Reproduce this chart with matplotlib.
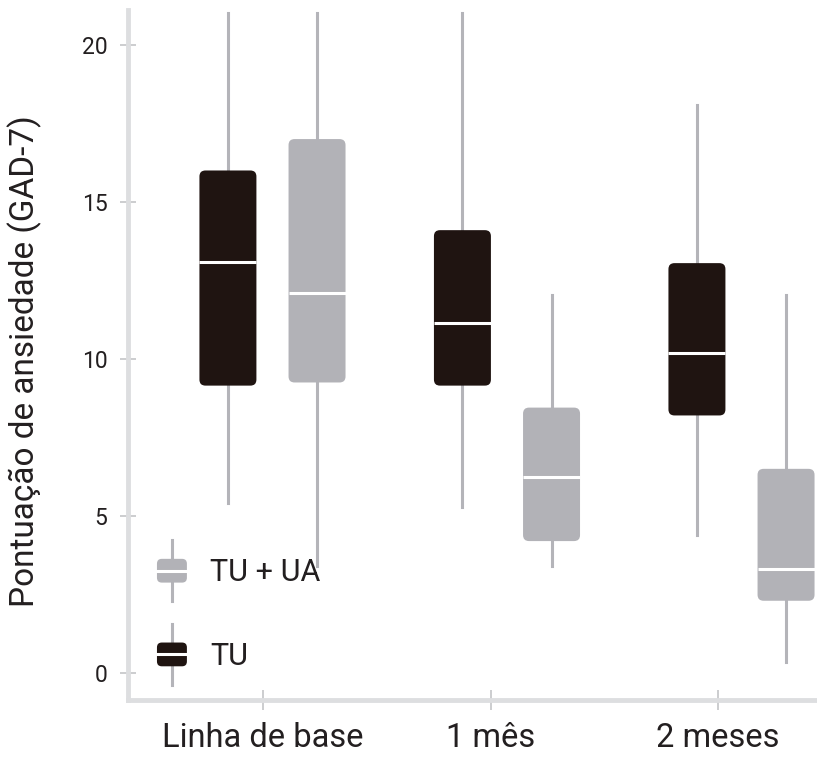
"""GAD-7 anxiety scores by time point: TU vs TU + UA box plots."""
import matplotlib
matplotlib.use("Agg")
import matplotlib.pyplot as plt
from matplotlib.patches import FancyBboxPatch, Patch
from matplotlib.lines import Line2D
from matplotlib.legend_handler import HandlerBase

plt.rcParams["font.family"] = ["Roboto", "DejaVu Sans"]

periods = ["Linha de base", "1 mês", "2 meses"]
series_names = ["TU + UA", "TU"]

# TU (black boxes)
tu_low = [5.4, 5.3, 4.4]
tu_q1 = [9.15, 9.15, 8.2]
tu_med = [13.1, 11.15, 10.2]
tu_q3 = [16.0, 14.1, 13.05]
tu_high = [21.0, 21.0, 18.1]

# TU + UA (grey boxes)
ua_low = [3.4, 3.4, 0.35]
ua_q1 = [9.25, 4.2, 2.3]
ua_med = [12.1, 6.25, 3.3]
ua_q3 = [17.0, 8.45, 6.5]
ua_high = [21.0, 12.05, 12.05]

TEXT = "#231f20"
BLACK = "#1f1411"
GREY = "#b2b2b7"
WHISKER = "#b4b4b9"
SPINE = "#dddee0"

FIG_W, FIG_H, DPI = 8.17, 7.57, 100
AX_RECT = [0.1567, 0.0753, 0.8433, 0.9115]
XLIM = (-0.616, 2.322)
YLIM = (-0.86, 21.11)
OFFSET = 0.19
BOX_W = 0.243
TICK_POS = [-0.04, 0.932, 1.90]


def make_stats(low, q1, med, q3, high):
    return [dict(whislo=a, q1=b, med=c, q3=d, whishi=e, fliers=[])
            for a, b, c, d, e in zip(low, q1, med, q3, high)]


class BoxGlyph(HandlerBase):
    def create_artists(self, legend, orig_handle, xdescent, ydescent,
                       width, height, fontsize, trans):
        fc = orig_handle.get_facecolor()
        cx = width / 2 - xdescent
        cy = height / 2 - ydescent
        whisk = Line2D([cx, cx], [cy - 22, cy + 22], color=WHISKER, lw=2.2,
                       transform=trans)
        box = FancyBboxPatch((-xdescent, cy - height / 2), width, height,
                             boxstyle="round,pad=0,rounding_size=3.5",
                             facecolor=fc, edgecolor="none", transform=trans)
        med = Line2D([-xdescent, -xdescent + width], [cy, cy], color="white",
                     lw=2.2, transform=trans)
        return [whisk, box, med]


fig = plt.figure(figsize=(FIG_W, FIG_H), dpi=DPI)
ax = fig.add_axes(AX_RECT)
ax.set_xlim(*XLIM)
ax.set_ylim(*YLIM)

# rounding in x data units, stretched to look circular in pixels
ax_w_px = AX_RECT[2] * FIG_W * DPI
ax_h_px = AX_RECT[3] * FIG_H * DPI
aspect = ((YLIM[1] - YLIM[0]) / ax_h_px) / ((XLIM[1] - XLIM[0]) / ax_w_px)
radius = 6 * (XLIM[1] - XLIM[0]) / ax_w_px

base = range(len(periods))
for stats, shift, color in [
    (make_stats(tu_low, tu_q1, tu_med, tu_q3, tu_high), -OFFSET, BLACK),
    (make_stats(ua_low, ua_q1, ua_med, ua_q3, ua_high), OFFSET, GREY),
]:
    pos = [p + shift for p in base]
    ax.bxp(stats, positions=pos, widths=BOX_W, showfliers=False,
           showcaps=False, patch_artist=True, manage_ticks=False,
           boxprops=dict(visible=False),
           whiskerprops=dict(color=WHISKER, lw=2.2, zorder=1),
           medianprops=dict(color="white", lw=2.2, zorder=4,
                            solid_capstyle="butt"))
    for p, s in zip(pos, stats):
        ax.add_patch(FancyBboxPatch(
            (p - BOX_W / 2, s["q1"]), BOX_W, s["q3"] - s["q1"],
            boxstyle=f"round,pad=0,rounding_size={radius}",
            mutation_aspect=aspect, facecolor=color, edgecolor="none",
            zorder=3))

for side in ["top", "right"]:
    ax.spines[side].set_visible(False)
for side in ["left", "bottom"]:
    ax.spines[side].set_color(SPINE)
    ax.spines[side].set_linewidth(3.5)

ax.set_yticks([0, 5, 10, 15, 20])
ax.set_xticks(TICK_POS)
ax.set_xticklabels(periods)
ax.tick_params(axis="y", direction="inout", length=11.5, width=1.3,
               color="#c8c9cc", pad=9, labelsize=16.5, labelcolor=TEXT)
ax.tick_params(axis="x", direction="inout", length=14, width=1.3,
               color="#c8c9cc", pad=9, labelsize=23.5, labelcolor=TEXT)

ax.set_ylabel("Pontuação de ansiedade (GAD-7)", fontsize=24, color=TEXT)
ax.yaxis.set_label_coords(-0.125, 0.491)

handles = [Patch(facecolor=GREY), Patch(facecolor=BLACK)]
ax.legend(handles, series_names, handler_map={Patch: BoxGlyph()},
          loc="lower left", bbox_to_anchor=(0.042, 0.042), frameon=False,
          fontsize=22, handlelength=0.98, handleheight=0.82,
          handletextpad=0.75, labelspacing=1.79, borderpad=0,
          borderaxespad=0, labelcolor=TEXT)

fig.savefig("out.png", dpi=DPI)
